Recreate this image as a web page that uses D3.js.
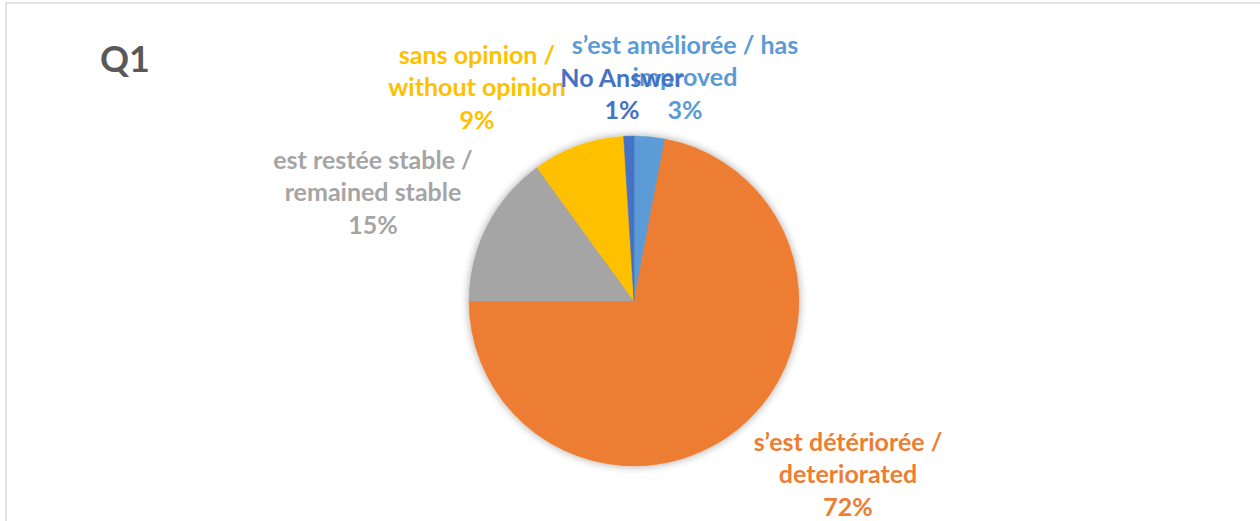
<!DOCTYPE html>
<html>
<head>
<meta charset="utf-8">
<script src="https://cdnjs.cloudflare.com/ajax/libs/d3/7.8.5/d3.min.js"></script>
<style>
  html, body { margin: 0; padding: 0; background: #fff; }
  svg { display: block; }
</style>
</head>
<body>
<svg id="chart"></svg>
<script>
//------ Données ------
const categories = ["s\u2019est améliorée / has improved", "s\u2019est détériorée / deteriorated", "est restée stable / remained stable", "sans opinion / without opinion", "No Answer"];
const values = [3, 72, 15, 9, 1];
const colors = ["#5B9BD5", "#ED7D31", "#A5A5A5", "#FFC000", "#4472C4"];
// lignes des étiquettes (comme dans Excel)
const labelLines = [
    ["s\u2019est améliorée / has", "improved", "3%"],
    ["s\u2019est détériorée /", "deteriorated", "72%"],
    ["est restée stable /", "remained stable", "15%"],
    ["sans opinion /", "without opinion", "9%"],
    ["No Answer", "1%"]
];

//taille du cadre
var width = 1260,
    height = 521;

var svg = d3.select("#chart")
    .attr("width", width)
    .attr("height", height);

// ombre douce sous le camembert
var defs = svg.append("defs");
var filter = defs.append("filter").attr("id", "shadow")
    .attr("x", "-20%").attr("y", "-20%").attr("width", "140%").attr("height", "140%");
filter.append("feGaussianBlur").attr("in", "SourceAlpha").attr("stdDeviation", 4);
filter.append("feOffset").attr("dx", 0).attr("dy", 0).attr("result", "blur");
filter.append("feComponentTransfer").append("feFuncA").attr("type", "linear").attr("slope", 0.35);
var merge = filter.append("feMerge");
merge.append("feMergeNode");
merge.append("feMergeNode").attr("in", "SourceGraphic");

// cadre du graphique
svg.append("rect")
    .attr("x", 6).attr("y", 3)
    .attr("width", 1400).attr("height", 700)
    .attr("fill", "none")
    .attr("stroke", "#D9D9D9")
    .attr("stroke-width", 1.5);

// titre
svg.append("text")
    .attr("x", 100).attr("y", 72)
    .attr("font-family", "Lato, sans-serif")
    .attr("font-weight", "bold")
    .attr("font-size", 36)
    .attr("fill", "#595959")
    .text("Q1");

//-- camembert --
var cx = 634, cy = 301, radius = 165;

var pie = d3.pie().sort(null).value(d => d)(values);
var arc = d3.arc().innerRadius(0).outerRadius(radius);

var g = svg.append("g").attr("transform", `translate(${cx},${cy})`);
g.append("g").attr("filter", "url(#shadow)")
    .selectAll("path")
    .data(pie)
    .enter()
    .append("path")
    .attr("d", arc)
    .attr("fill", (d, i) => colors[i])
    .attr("stroke", (d, i) => colors[i])
    .attr("stroke-width", 0.5);

// position des étiquettes (placées à la main comme dans l'original)
const labelPos = [[685, 45], [848, 442], [373, 160], [477, 55], [622, 78]];
var lineH = 32.5;

labelLines.forEach((lines, i) => {
    var t = svg.append("text")
        .attr("text-anchor", "middle")
        .attr("font-family", "Lato, sans-serif")
        .attr("font-weight", "bold")
        .attr("font-size", 25)
        .attr("fill", colors[i]);
    lines.forEach((l, j) => {
        t.append("tspan")
            .attr("x", labelPos[i][0])
            .attr("y", labelPos[i][1] + j * lineH)
            .attr("dy", "0.35em")
            .text(l);
    });
});
</script>
</body>
</html>
